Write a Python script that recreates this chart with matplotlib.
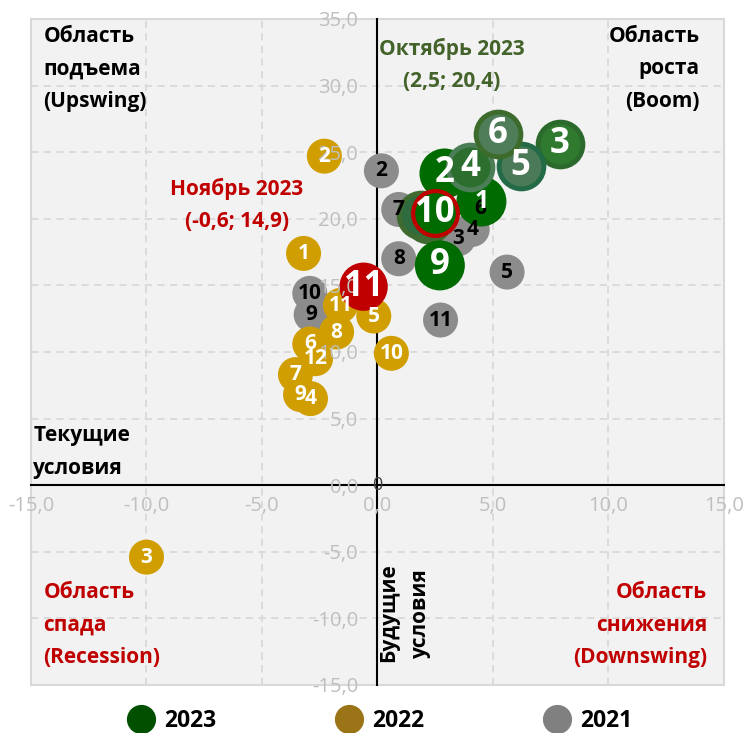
import matplotlib
matplotlib.use('Agg')
import matplotlib.pyplot as plt
from matplotlib.lines import Line2D
from matplotlib.patches import Rectangle
from matplotlib.ticker import FuncFormatter, MultipleLocator

plt.rcParams['font.family'] = ['Open Sans', 'DejaVu Sans']

# 2021 (gray)
m21 = [2, 3, 4, 5, 6, 7, 8, 9, 10, 11]
x21 = [0.17, 3.49, 4.1, 5.61, 4.43, 0.92, 0.92, -2.87, -2.93, 2.73]
y21 = [23.6, 18.5, 19.2, 16.0, 20.8, 20.7, 17.0, 12.8, 14.4, 12.4]

# 2022 (gold)
m22 = [1, 2, 3, 4, 5, 6, 7, 8, 9, 10, 11, 12]
x22 = [-3.2, -2.3, -10.0, -2.9, -0.16, -2.93, -3.55, -1.77, -3.33, 0.6, -1.6, -2.68]
y22 = [17.4, 24.7, -5.4, 6.5, 12.7, 10.6, 8.3, 11.5, 6.8, 9.9, 13.5, 9.5]

# 2023 (green), November highlighted in red
m23 = [1, 2, 3, 4, 5, 6, 7, 8, 9, 10, 11]
x23 = [4.5, 2.9, 7.9, 4.0, 6.2, 5.2, 2.2, 1.9, 2.7, 2.5, -0.6]
y23 = [21.3, 23.4, 25.6, 23.9, 24.0, 26.4, 20.0, 20.3, 16.5, 20.4, 14.9]

legend_years = ['2023', '2022', '2021']

# per-month look of the 2023 bubbles
face23 = {1: '#006b00', 2: '#006b00', 3: '#2f7a2f', 4: '#2b6e2d', 5: '#4b7a58',
          6: '#4f7d5a', 7: '#2e6b3e', 8: '#2e6b3e', 9: '#006b00', 10: '#006b00',
          11: '#c00000'}
edge23 = {3: '#2c692c', 4: '#4b7d56', 5: '#236b46', 6: '#3c6b2b', 7: '#3f6b30',
          8: '#3f6b30', 10: '#c00000'}

fig = plt.figure(figsize=(7.48, 7.33), dpi=100)
ax = fig.add_axes([0.0414, 0.0655, 0.9265, 0.9086])
ax.set_facecolor('#f2f2f2')
ax.set_xlim(-15, 15)
ax.set_ylim(-15, 35)

# dashed grid under everything
for v in range(-10, 15, 5):
    ax.axvline(v, color='#d9d9d9', lw=1.3, ls=(0, (4, 3)), zorder=0.5)
for v in range(-10, 35, 5):
    ax.axhline(v, color='#d9d9d9', lw=1.3, ls=(0, (4, 3)), zorder=0.5)
ax.add_patch(Rectangle((0, 0), 1, 1, transform=ax.transAxes, fill=False,
                       edgecolor='#d9d9d9', lw=1.5, zorder=0.6, clip_on=False))

for s in ['top', 'right']:
    ax.spines[s].set_visible(False)
ax.spines['left'].set_position('zero')
ax.spines['bottom'].set_position('zero')
for s in ['left', 'bottom']:
    ax.spines[s].set_color('black')
    ax.spines[s].set_linewidth(1.5)
    ax.spines[s].set_zorder(1)

fmt = FuncFormatter(lambda v, p: f'{v:.1f}'.replace('.', ','))
ax.xaxis.set_major_locator(MultipleLocator(5))
ax.yaxis.set_major_locator(MultipleLocator(5))
ax.xaxis.set_major_formatter(fmt)
ax.yaxis.set_major_formatter(fmt)
ax.tick_params(axis='both', length=0, labelsize=14.5, labelcolor='#bfbfbf')
ax.tick_params(axis='x', pad=8)
ax.tick_params(axis='y', pad=14)
ax.xaxis.set_zorder(20)
ax.yaxis.set_zorder(20)

# bubbles
ax.scatter(x21, y21, s=635, color='#8c8c8c', edgecolor='none', zorder=3)
for m, x, y in zip(m21, x21, y21):
    ax.text(x, y, str(m), ha='center', va='center', fontsize=15,
            fontweight='bold', color='black', zorder=30)

ax.scatter(x22, y22, s=635, color='#d09e00', edgecolor='none', zorder=4)
for m, x, y in zip(m22, x22, y22):
    ax.text(x, y, str(m), ha='center', va='center', fontsize=15,
            fontweight='bold', color='white', zorder=30)

for i, (m, x, y) in enumerate(zip(m23, x23, y23)):
    ec = edge23.get(m)
    if ec is None:
        ax.scatter([x], [y], s=1296 if m != 11 else 1210, color=face23[m],
                   edgecolor='none', zorder=5 + i * 0.1)
    else:
        lw = 3.0 if m == 10 else 3.5
        ax.scatter([x], [y], s=1040, color=face23[m], edgecolor=ec,
                   linewidth=lw, zorder=5 + i * 0.1)
    if m in (7, 8):
        ax.text(x, y, str(m), ha='center', va='center', fontsize=22,
                fontweight='bold', color='#9aa59a', zorder=5 + i * 0.1 + 0.05)
    else:
        ax.text(x, y, str(m), ha='center', va='center',
                fontsize=18 if m == 1 else 25, fontweight='bold',
                color='white', zorder=31)

ax.text(0, 0, '0', ha='center', va='center', fontsize=13, color='#404040', zorder=25)

# annotations
bold = dict(fontweight='bold', fontsize=15, linespacing=1.72, zorder=40)
ax.text(-14.46, 34.5, 'Область\nподъема\n(Upswing)', ha='left', va='top',
        color='black', **bold)
ax.text(13.94, 34.5, 'Область\nроста\n(Boom)', ha='right', va='top',
        multialignment='right', color='black', **bold)
ax.text(-14.9, 4.5, 'Текущие\nусловия', ha='left', va='top', color='black', **bold)
ax.text(1.17, -9.6, 'Будущие\nусловия', ha='center', va='center', rotation=90,
        color='black', **bold)
ax.text(-14.46, -7.3, 'Область\nспада\n(Recession)', ha='left', va='top',
        color='#c00000', **bold)
ax.text(14.27, -7.3, 'Область\nснижения\n(Downswing)', ha='right', va='top',
        multialignment='right', color='#c00000', **bold)
ax.text(3.22, 33.6, 'Октябрь 2023\n(2,5; 20,4)', ha='center', va='top',
        multialignment='center', color='#44632a', **bold)
ax.text(-6.1, 23.1, 'Ноябрь 2023\n(-0,6; 14,9)', ha='center', va='top',
        multialignment='center', color='#c00000', **bold)

handles = [Line2D([], [], ls='none', marker='o', markersize=20, color=c)
           for c in ['#005000', '#9a7417', '#808080']]
fig.legend(handles, legend_years, loc='center', bbox_to_anchor=(0.507, 0.017),
           ncol=3, frameon=False, prop=dict(weight='bold', size=16.5),
           handlelength=1.3, handletextpad=0.35, columnspacing=5.15)

fig.savefig('out.png', dpi=100)
